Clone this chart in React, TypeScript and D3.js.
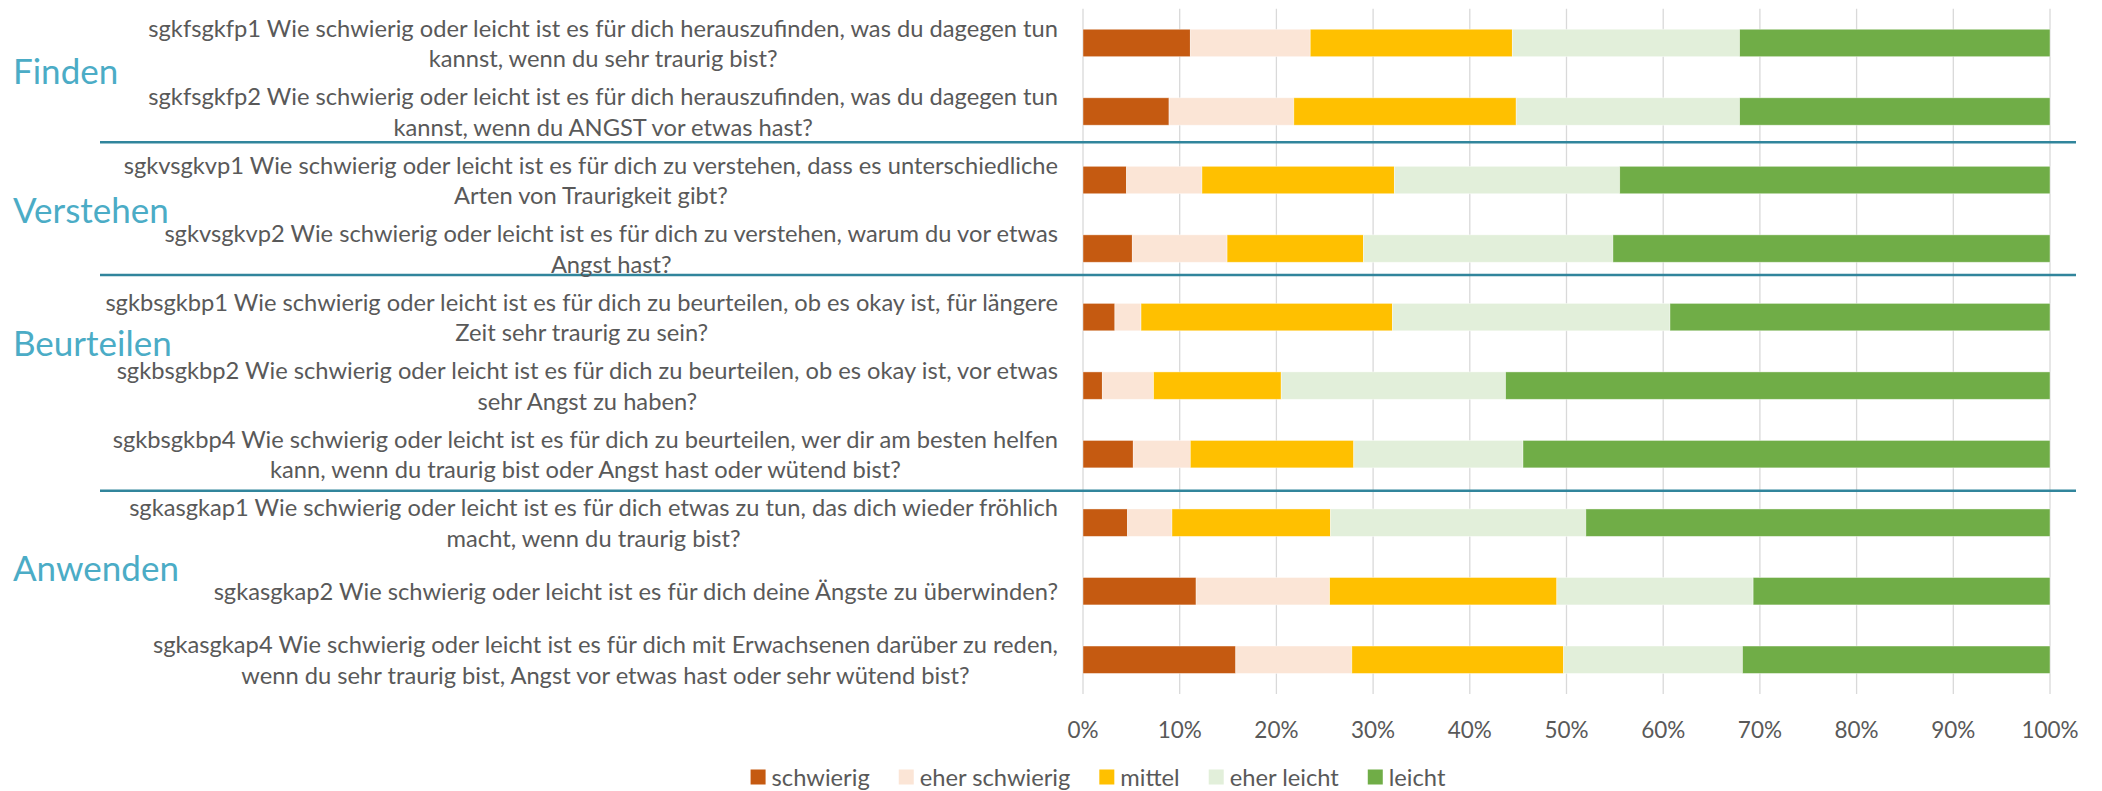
import React, { useEffect, useRef } from "react";
import * as d3 from "d3";

// ---------- DATA ----------
const questions = [
  "sgkfsgkfp1",
  "sgkfsgkfp2",
  "sgkvsgkvp1",
  "sgkvsgkvp2",
  "sgkbsgkbp1",
  "sgkbsgkbp2",
  "sgkbsgkbp4",
  "sgkasgkap1",
  "sgkasgkap2",
  "sgkasgkap4",
];

const labelLines: string[][] = [
  ["sgkfsgkfp1 Wie schwierig oder leicht ist es für dich herauszufinden, was du dagegen tun", "kannst, wenn du sehr traurig bist?"],
  ["sgkfsgkfp2 Wie schwierig oder leicht ist es für dich herauszufinden, was du dagegen tun", "kannst, wenn du ANGST vor etwas hast?"],
  ["sgkvsgkvp1 Wie schwierig oder leicht ist es für dich zu verstehen, dass es unterschiedliche", "Arten von Traurigkeit gibt?"],
  ["sgkvsgkvp2 Wie schwierig oder leicht ist es für dich zu verstehen, warum du vor etwas", "Angst hast?"],
  ["sgkbsgkbp1 Wie schwierig oder leicht ist es für dich zu beurteilen, ob es okay ist, für längere", "Zeit sehr traurig zu sein?"],
  ["sgkbsgkbp2 Wie schwierig oder leicht ist es für dich zu beurteilen, ob es okay ist, vor etwas", "sehr Angst zu haben?"],
  ["sgkbsgkbp4 Wie schwierig oder leicht ist es für dich zu beurteilen, wer dir am besten helfen", "kann, wenn du traurig bist oder Angst hast oder wütend bist?"],
  ["sgkasgkap1 Wie schwierig oder leicht ist es für dich etwas zu tun, das dich wieder fröhlich", "macht, wenn du traurig bist?"],
  ["sgkasgkap2 Wie schwierig oder leicht ist es für dich deine Ängste zu überwinden?"],
  ["sgkasgkap4 Wie schwierig oder leicht ist es für dich mit Erwachsenen darüber zu reden,", "wenn du sehr traurig bist, Angst vor etwas hast oder sehr wütend bist?"],
];

const groups = ["Finden", "Verstehen", "Beurteilen", "Anwenden"];
const groupStartRow = [0, 2, 4, 7];

const categories = ["schwierig", "eher schwierig", "mittel", "eher leicht", "leicht"];

const schwierig = [11.1, 8.9, 4.5, 5.1, 3.3, 2.0, 5.2, 4.6, 11.7, 15.8];
const eherSchwierig = [12.4, 12.9, 7.8, 9.8, 2.7, 5.3, 5.9, 4.6, 13.8, 12.0];
const mittel = [20.9, 23.0, 19.9, 14.1, 26.0, 13.2, 16.9, 16.4, 23.5, 21.9];
const eherLeicht = [23.5, 23.1, 23.3, 25.8, 28.7, 23.2, 17.5, 26.4, 20.3, 18.5];
const leicht = [32.1, 32.1, 44.5, 45.2, 39.3, 56.3, 54.5, 48.0, 30.7, 31.8];

const tickValues = [0, 10, 20, 30, 40, 50, 60, 70, 80, 90, 100];

// ---------- STYLE / LAYOUT ----------
const colors = ["#C55A11", "#FBE5D6", "#FFC000", "#E2EFDA", "#70AD47"];
const W = 2102;
const H = 791;
const plotLeft = 1083;
const plotRight = 2050;
const plotTop = 8.7;
const plotBottom = 694;
const labelRight = 1058;
const lineGap = 30.5;
const FONT = "Lato, 'Open Sans', sans-serif";
const labelSize = 23.7;
const tickSize = 22.5;
const textColor = "#595959";
const groupColor = "#4BACC6";
const sepColor = "#31859C";
const sepNudge = [-3.5, -7.7, 2.3];
const groupLabelRowPos = [0.39, 2.42, 4.36, 7.65];

export default function App() {
  const ref = useRef<SVGSVGElement>(null);

  useEffect(() => {
    const svg = d3.select(ref.current);
    svg.selectAll("*").remove();

    const x = d3.scaleLinear().domain([0, 100]).range([plotLeft, plotRight]);
    const y = d3
      .scaleBand<string>()
      .domain(questions)
      .range([plotTop, plotBottom])
      .paddingInner(0.6)
      .paddingOuter(0.3);
    const bw = y.bandwidth();
    const step = y.step();
    const rowCenter = (i: number) => (y(questions[0]) as number) + bw / 2 + step * i;

    const table = questions.map((q, i) => ({
      q,
      schwierig: schwierig[i],
      "eher schwierig": eherSchwierig[i],
      mittel: mittel[i],
      "eher leicht": eherLeicht[i],
      leicht: leicht[i],
    }));
    const stacked = d3.stack<any>().keys(categories)(table);

    // gridlines
    svg
      .append("g")
      .selectAll("line")
      .data(tickValues)
      .join("line")
      .attr("x1", (d) => x(d))
      .attr("x2", (d) => x(d))
      .attr("y1", plotTop)
      .attr("y2", plotBottom)
      .attr("stroke", "#D9D9D9")
      .attr("stroke-width", 1.3);

    // bars
    const color = d3.scaleOrdinal<string, string>().domain(categories).range(colors);
    svg
      .append("g")
      .selectAll("g")
      .data(stacked)
      .join("g")
      .attr("fill", (s) => color(s.key))
      .selectAll("rect")
      .data((s) => s)
      .join("rect")
      .attr("x", (d) => x(d[0]))
      .attr("width", (d) => x(d[1]) - x(d[0]))
      .attr("y", (d) => y(d.data.q) as number)
      .attr("height", bw)
      .attr("stroke", "#ffffff")
      .attr("stroke-opacity", 0.5)
      .attr("stroke-width", 0.8);

    // separators
    svg
      .append("g")
      .selectAll("line")
      .data(groupStartRow.slice(1))
      .join("line")
      .attr("x1", 100)
      .attr("x2", 2076)
      .attr("y1", (d, i) => (y(questions[d]) as number) - (step - bw) / 2 + sepNudge[i])
      .attr("y2", (d, i) => (y(questions[d]) as number) - (step - bw) / 2 + sepNudge[i])
      .attr("stroke", sepColor)
      .attr("stroke-width", 2.5);

    // category labels
    const lg = svg.append("g").attr("font-family", FONT).attr("font-size", labelSize).attr("fill", textColor);
    labelLines.forEach((lines, i) => {
      const c = rowCenter(i);
      const t = lg.append("text").attr("text-anchor", "middle");
      const spans = lines.map((ln, k) =>
        t
          .append("tspan")
          .attr("y", c + (k - (lines.length - 1) / 2) * lineGap)
          .attr("dominant-baseline", "central")
          .text(ln)
      );
      let maxW = 0;
      spans.forEach((s) => {
        const w = (s.node() as SVGTSpanElement).getComputedTextLength();
        if (w > maxW) maxW = w;
      });
      spans.forEach((s) => s.attr("x", labelRight - maxW / 2));
    });

    // group labels
    svg
      .append("g")
      .selectAll("text")
      .data(groups)
      .join("text")
      .attr("x", 13)
      .attr("y", (d, i) => rowCenter(groupLabelRowPos[i]))
      .attr("dominant-baseline", "central")
      .attr("font-family", FONT)
      .attr("font-size", 35)
      .attr("fill", groupColor)
      .text((d) => d);

    // x tick labels
    svg
      .append("g")
      .selectAll("text")
      .data(tickValues)
      .join("text")
      .attr("x", (d) => x(d))
      .attr("y", 729)
      .attr("text-anchor", "middle")
      .attr("dominant-baseline", "central")
      .attr("font-family", FONT)
      .attr("font-size", tickSize)
      .attr("fill", textColor)
      .text((d) => `${d}%`);

    // legend
    const leg = svg.append("g").attr("font-family", FONT).attr("font-size", labelSize).attr("fill", textColor);
    const items = categories.map((c) => {
      const g = leg.append("g");
      g.append("rect").attr("width", 15).attr("height", 15).attr("y", -7.5).attr("fill", color(c));
      const t = g.append("text").attr("x", 21).attr("dominant-baseline", "central").text(c);
      const w = 21 + (t.node() as SVGTextElement).getComputedTextLength();
      return { g, w };
    });
    const gap = 29;
    const total = d3.sum(items, (d) => d.w) + gap * (items.length - 1);
    let cx = 1098 - total / 2;
    items.forEach((it) => {
      it.g.attr("transform", `translate(${cx},777)`);
      cx += it.w + gap;
    });
  }, []);

  return (
    <svg
      ref={ref}
      width={W}
      height={H}
      style={{ position: "absolute", left: 0, top: 0, background: "#fff" }}
    />
  );
}
